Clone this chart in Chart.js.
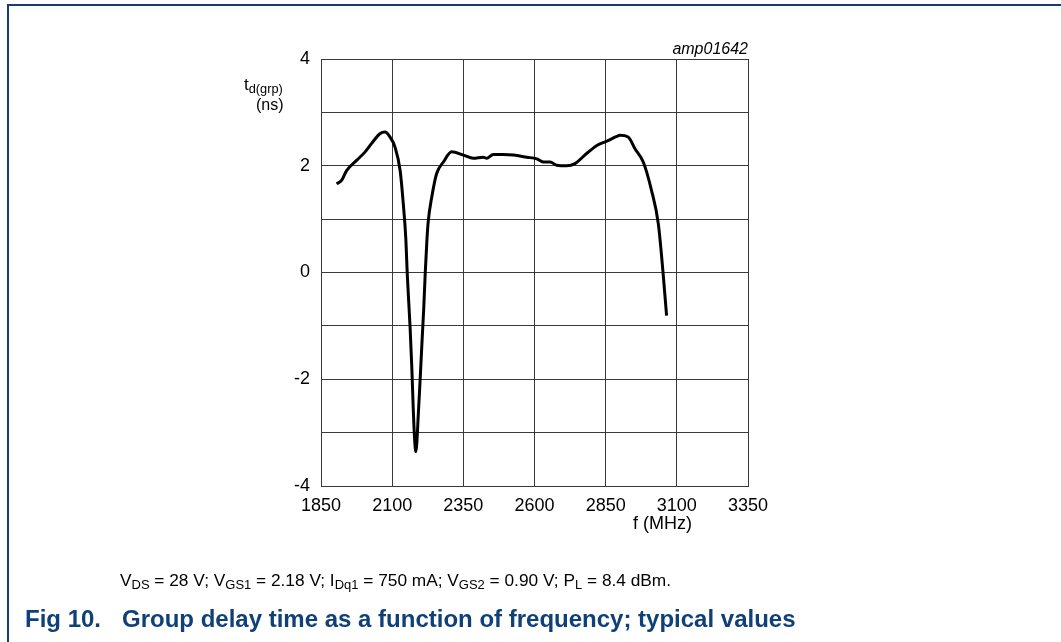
<!DOCTYPE html>
<html>
<head>
<meta charset="utf-8">
<script src="https://cdn.jsdelivr.net/npm/chart.js@4.4.0/dist/chart.umd.min.js"></script>
<style>
  html, body { margin: 0; padding: 0; background: #fff; }
  body { width: 1061px; height: 642px; overflow: hidden; font-family: "Liberation Sans", Arial, sans-serif; }
  #wrap { position: relative; width: 1061px; height: 642px; }
  #chart { position: absolute; left: 0; top: 0; }
  .frame-top { position: absolute; left: 7px; top: 4px; width: 1054px; height: 0; border-top: 2px solid #123f70; }
  .frame-left { position: absolute; left: 7px; top: 4px; width: 0; height: 638px; border-left: 2px solid #123f70; }
  .txt { position: absolute; white-space: nowrap; color: #000; }
  sub { font-size: 75%; vertical-align: -0.25em; line-height: 0; }
  .title { font-size: 24px; font-weight: bold; color: #0f4078; top: 607px; line-height: 24px; }
</style>
</head>
<body>
<div id="wrap">
  <canvas id="chart" width="1061" height="642"></canvas>
  <div class="frame-top"></div>
  <div class="frame-left"></div>
  <div class="txt" style="left:244px; top:76px; font-size:17px; line-height:17px;">t<sub>d(grp)</sub></div>
  <div class="txt" style="left:256px; top:97px; font-size:16px; line-height:16px;">(ns)</div>
  <div class="txt" style="left:633px; top:514px; font-size:18px; line-height:18px;">f (MHz)</div>
  <div class="txt" style="right:313px; top:41px; font-size:16px; line-height:16px; font-style:italic;">amp01642</div>
  <div class="txt" style="left:120px; top:571px; font-size:17.3px; line-height:18px;">V<sub>DS</sub> = 28 V; V<sub>GS1</sub> = 2.18 V; I<sub>Dq1</sub> = 750 mA; V<sub>GS2</sub> = 0.90 V; P<sub>L</sub> = 8.4 dBm.</div>
  <div class="txt title" style="left:25px;">Fig 10.</div>
  <div class="txt title" style="left:122px;">Group delay time as a function of frequency; typical values</div>
</div>
<script>
document.addEventListener('DOMContentLoaded', () => {
    // frequency (MHz) and group delay (ns)
    const freq = [1905, 1923, 1940, 1975, 2005, 2028, 2057, 2075, 2092, 2110,
        2128, 2139, 2148, 2153, 2163, 2169, 2174, 2178, 2183,
        2193, 2198, 2205, 2211, 2216, 2222, 2227, 2239, 2256, 2280, 2309,
        2350, 2385, 2420, 2432, 2455, 2490, 2526, 2573, 2608, 2631, 2655,
        2678, 2713, 2742, 2783, 2819, 2854, 2889, 2900, 2929, 2953, 2982,
        3011, 3035, 3052, 3064];
    const delay = [1.66, 1.73, 1.91, 2.10, 2.26, 2.42, 2.60, 2.63, 2.54, 2.35,
        1.91, 1.29, 0.63, -0.03, -1.03, -1.78, -2.54, -3.04, -3.36,
        -2.54, -2.03, -1.28, -0.66, -0.03, 0.60, 0.97, 1.41, 1.85, 2.07, 2.26,
        2.20, 2.14, 2.16, 2.14, 2.21, 2.21, 2.20, 2.16, 2.13, 2.07, 2.07,
        2.01, 2.00, 2.04, 2.23, 2.38, 2.46, 2.55, 2.57, 2.54, 2.32, 2.07,
        1.54, 0.91, -0.03, -0.81];

    const xTicks = [1850, 2100, 2350, 2600, 2850, 3100, 3350];
    const yTicks = [-4, -3, -2, -1, 0, 1, 2, 3, 4];
    const yLabels = ['-4', '', '-2', '', '0', '', '2', '', '4'];

    const points = freq.map((f, i) => ({ x: f, y: delay[i] }));
    const gridColor = '#3a3a3a';
    const tickFont = { family: '"Liberation Sans", Arial, sans-serif', size: 18 };

    new Chart(document.getElementById('chart').getContext('2d'), {
        type: 'line',
        data: {
            datasets: [{
                data: points,
                borderColor: '#000',
                borderWidth: 3,
                pointRadius: 0,
                fill: false,
                cubicInterpolationMode: 'monotone'
            }]
        },
        options: {
            responsive: false,
            animation: false,
            layout: { padding: { left: 271, top: 59, right: 313, bottom: 116 } },
            plugins: { legend: { display: false }, tooltip: { enabled: false } },
            scales: {
                x: {
                    type: 'linear',
                    min: xTicks[0],
                    max: xTicks[xTicks.length - 1],
                    afterBuildTicks: s => { s.ticks = xTicks.map(v => ({ value: v })); },
                    afterFit: s => { s.height = 40; },
                    grid: { color: gridColor, lineWidth: 1, drawTicks: false },
                    border: { color: gridColor, width: 1 },
                    ticks: { color: '#000', font: tickFont, padding: 9, maxRotation: 0, autoSkip: false,
                        callback: v => String(v) }
                },
                y: {
                    min: yTicks[0],
                    max: yTicks[yTicks.length - 1],
                    afterBuildTicks: s => { s.ticks = yTicks.map(v => ({ value: v })); },
                    afterFit: s => { s.width = 50; },
                    grid: { color: gridColor, lineWidth: 1, drawTicks: false },
                    border: { color: gridColor, width: 1 },
                    ticks: { color: '#000', font: tickFont, padding: 11, autoSkip: false,
                        callback: v => yLabels[yTicks.indexOf(v)] }
                }
            }
        }
    });
});
</script>
</body>
</html>
